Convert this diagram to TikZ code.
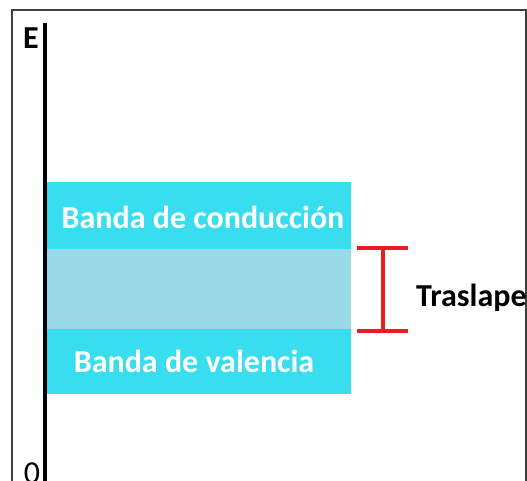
\documentclass[tikz,border=0pt]{standalone}
\usepackage{fontspec}
\setmainfont{Carlito}
\usetikzlibrary{positioning}
\definecolor{bandcyan}{HTML}{38DEEF}
\definecolor{overlapblue}{HTML}{9AD9E8}
\definecolor{bracketred}{HTML}{ED1C24}
\tikzset{
 band/.style={fill=bandcyan,draw=none,minimum width=304pt,inner sep=0pt},
 bandlabel/.style={text=white,inner sep=0pt,font=\fontsize{32}{34}\selectfont\bfseries},
 bracket/.style={draw=bracketred,line width=3.5pt}
}
\begin{document}
\begin{tikzpicture}[x=1pt,y=-1pt]
 \useasboundingbox[fill=white](0,0) rectangle (527,480);
 % frame
 \draw[line width=2pt,black!75](12,482)--(12,10)--(526,10)--(526,482);
 % energy axis
 \draw[line width=4pt](45,23)--(45,482);
 \node[font=\fontsize{32}{34}\selectfont\bfseries,anchor=base] (E) at (31,48) {E};
 \node[font=\fontsize{32}{34}\selectfont,anchor=base] (zero) at (32,483) {0};
 % bands
 \node[band,minimum height=67pt,anchor=north west] (cb) at (47,182) {};
 \node[band,fill=overlapblue,minimum height=80pt,anchor=north west] (ov) at (47,249) {};
 \node[band,minimum height=65pt,anchor=north west] (vb) at (47,329) {};
 \node[bandlabel,anchor=base] (cbtext) at (203,228) {Banda de conducción};
 \node[bandlabel,anchor=base] (vbtext) at (194,372) {Banda de valencia};
 % overlap bracket
 \coordinate (btop) at (383,248);
 \coordinate (bbot) at (383,331);
 \draw[bracket](357,248)--(408,248);
 \draw[bracket](357,331)--(408,331);
 \draw[bracket](btop)--(bbot);
 \node[font=\fontsize{32}{34}\selectfont\bfseries,inner sep=0pt,anchor=base west] (tr) at (416,306) {Traslape};
\end{tikzpicture}
\end{document}
